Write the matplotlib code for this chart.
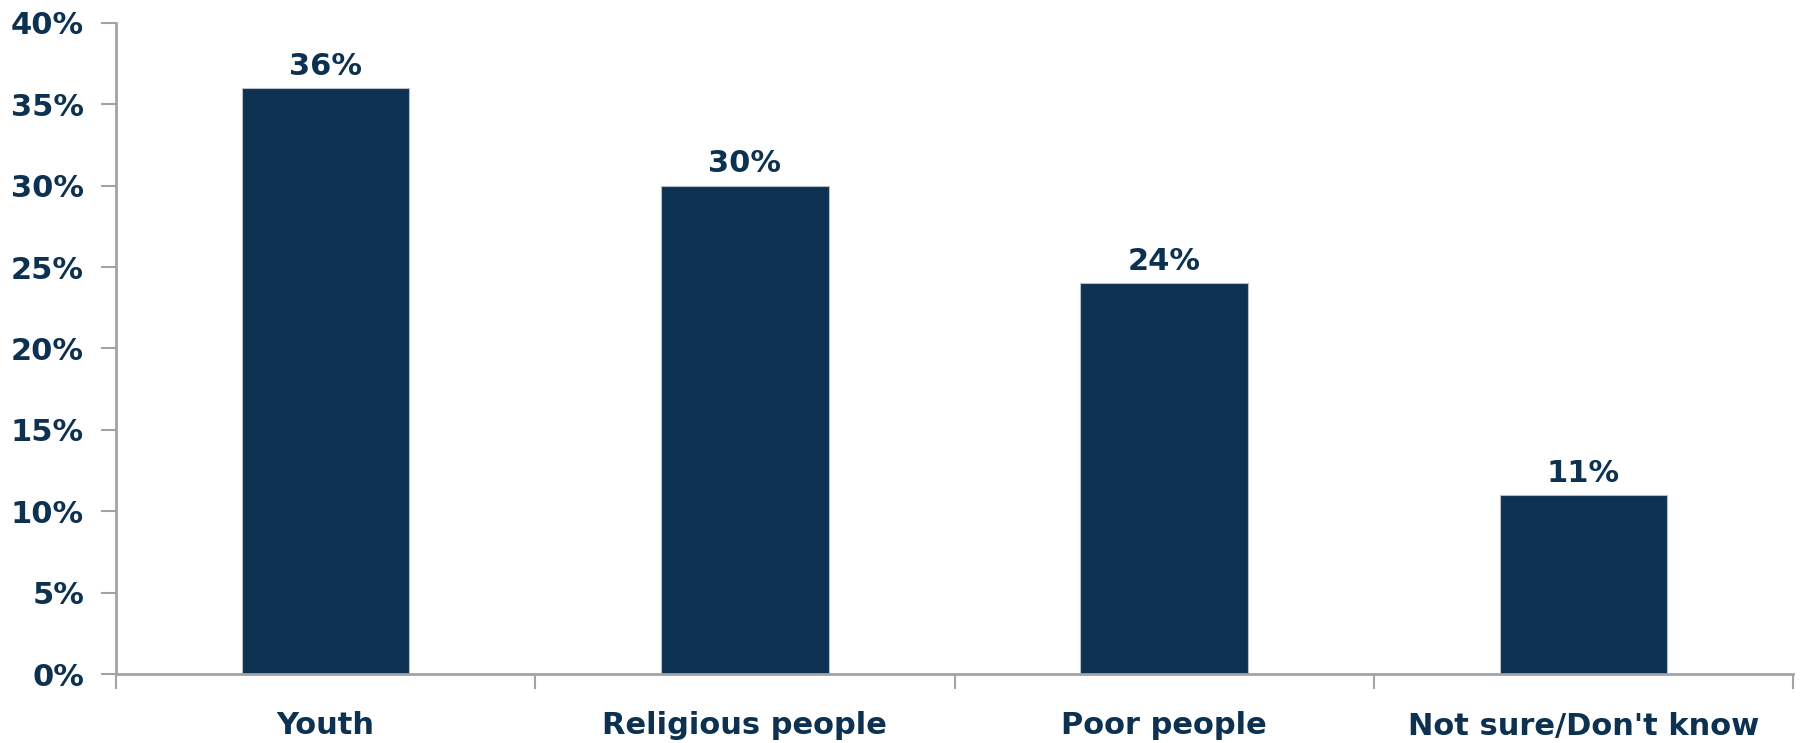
import matplotlib
matplotlib.use('Agg')
import matplotlib.pyplot as plt
from matplotlib.ticker import FuncFormatter, FixedLocator

# données
categories = ["Youth", "Religious people", "Poor people", "Not sure/Don't know"]
values = [36, 30, 24, 11]
yticks = [0, 5, 10, 15, 20, 25, 30, 35, 40]

navy = "#0D3150"
grey = "#A0A4A8"
plt.rcParams['font.family'] = ['DejaVu Sans']
plt.rcParams['font.weight'] = 'bold'

fig = plt.figure(figsize=(18, 7.43), dpi=100)
ax = fig.add_axes([116/1800, 1 - 674/743, (1793 - 116)/1800, (674 - 23)/743])

x = list(range(len(categories)))
ax.bar(x, values, width=0.40, color=navy, edgecolor="#B8BEC4", linewidth=0.8, zorder=2)

for xi, v in zip(x, values):
    ax.text(xi, v + 0.45, f"{v}%", ha='center', va='bottom', fontsize=22,
            fontweight='bold', color=navy)

ax.set_xlim(-0.5, len(categories) - 0.5)
ax.set_ylim(0, 40)
ax.set_yticks(yticks)
ax.yaxis.set_major_formatter(FuncFormatter(lambda v, p: f"{v:.0f}%"))
ax.set_xticks(x)
ax.set_xticklabels(categories)
ax.xaxis.set_minor_locator(FixedLocator([i - 0.5 for i in range(len(categories) + 1)]))

for s in ['top', 'right']:
    ax.spines[s].set_visible(False)
for s in ['left', 'bottom']:
    ax.spines[s].set_color(grey)
    ax.spines[s].set_linewidth(2)

ax.tick_params(axis='y', length=11, width=1.5, color=grey, labelsize=22,
               labelcolor=navy, pad=12)
ax.tick_params(axis='x', which='major', length=0, labelsize=22,
               labelcolor=navy, pad=27)
ax.tick_params(axis='x', which='minor', length=11, width=1.5, color=grey)
for lab in ax.get_xticklabels() + ax.get_yticklabels():
    lab.set_fontweight('bold')

fig.savefig("out.png", dpi=100)
